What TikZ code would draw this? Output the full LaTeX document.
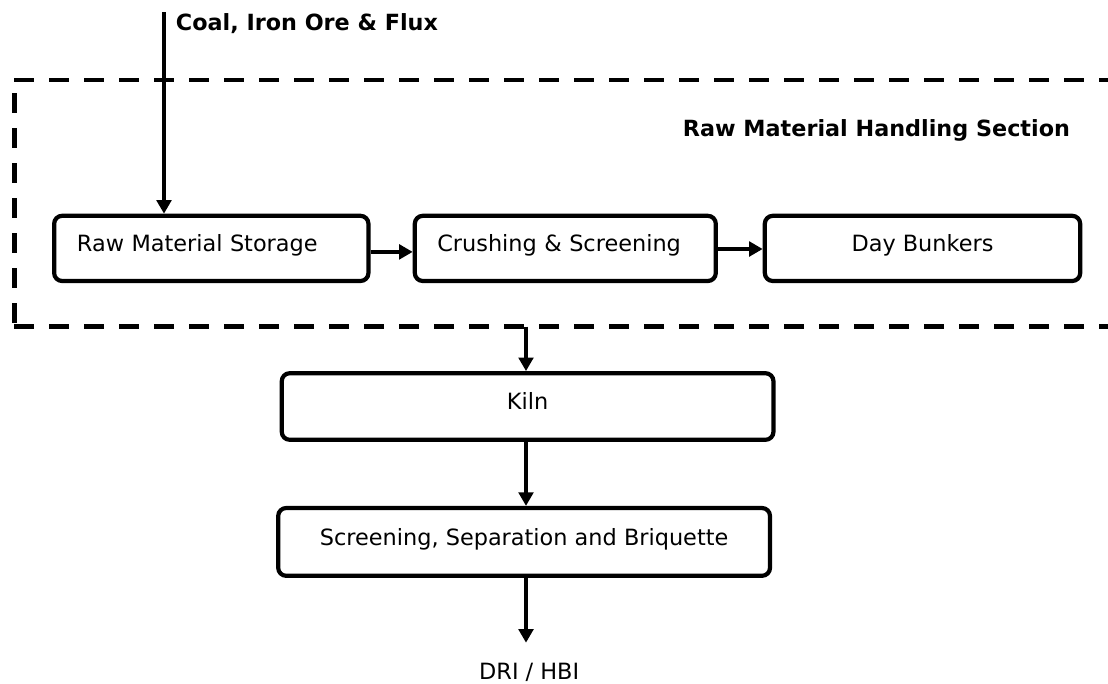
\documentclass[tikz,border=0pt]{standalone}
\usepackage{fontspec}
\setmainfont{DejaVu Sans}
\usetikzlibrary{arrows.meta}

\begin{document}
\begin{tikzpicture}[x=1pt,y=-1pt,
  box/.style={draw, line width=4.2pt, rounded corners=8pt, inner sep=0pt,
    text height=12pt, text depth=5.6pt,
    font=\fontsize{22.4}{26}\selectfont},
  flow/.style={line width=4pt, -{Triangle[length=13.5pt,width=14.5pt]}},
  frame/.style={line width=4.5pt, dash pattern=on 20pt off 15pt},
  heading/.style={font=\bfseries\fontsize{22.3}{26}\selectfont, inner sep=0pt, anchor=base west},
  plain/.style={font=\fontsize{22.4}{26}\selectfont, inner sep=0pt, anchor=base}
]
\clip (0,0) rectangle (1108,683);

% raw material handling section outline (open on the right)
\draw[frame] (14.3,80) -- (1112,80);
\draw[frame, dash phase=22pt] (14.3,80) -- (14.3,326.7);
\draw[frame] (14.3,326.7) -- (1112,326.7);

\node[heading] (section) at (682.7,136.7) {Raw Material Handling Section};
\node[heading] (feed) at (175.7,30) {Coal, Iron Ore \& Flux};

% process steps
\node[box, minimum width=314.3pt, minimum height=65.2pt, text width=268.7pt, align=left]
  (store) at (211.3,248.4) {Raw Material Storage};
\node[box, minimum width=301pt, minimum height=65.2pt, text width=256pt, align=left]
  (crush) at (565.3,248.4) {Crushing \& Screening};
\node[box, minimum width=315.4pt, minimum height=65.2pt]
  (bunker) at (922.5,248.4) {Day Bunkers};
\node[box, minimum width=491.7pt, minimum height=66.6pt]
  (kiln) at (527.6,406.5) {Kiln};
\node[box, minimum width=491.8pt, minimum height=67.8pt]
  (screen) at (524.1,541.9) {Screening, Separation and Briquette};

\node[plain] (product) at (529.2,679.3) {DRI / HBI};

% connector ends
\coordinate (in) at (164,12);
\coordinate (gate) at (526,326.7);
\coordinate (out) at (526,642.7);

% flows
\draw[flow] (in) -- (store.north -| in);
\draw[flow] ([yshift=-3.5pt]store.east) -- ([yshift=-3.5pt]crush.west);
\draw[flow] ([yshift=-0.6pt]crush.east) -- ([yshift=-0.6pt]bunker.west);
\draw[flow] (gate) -- (kiln.north -| gate);
\draw[flow] (kiln.south -| gate) -- (screen.north -| gate);
\draw[flow] (screen.south -| gate) -- (out);
\end{tikzpicture}
\end{document}
